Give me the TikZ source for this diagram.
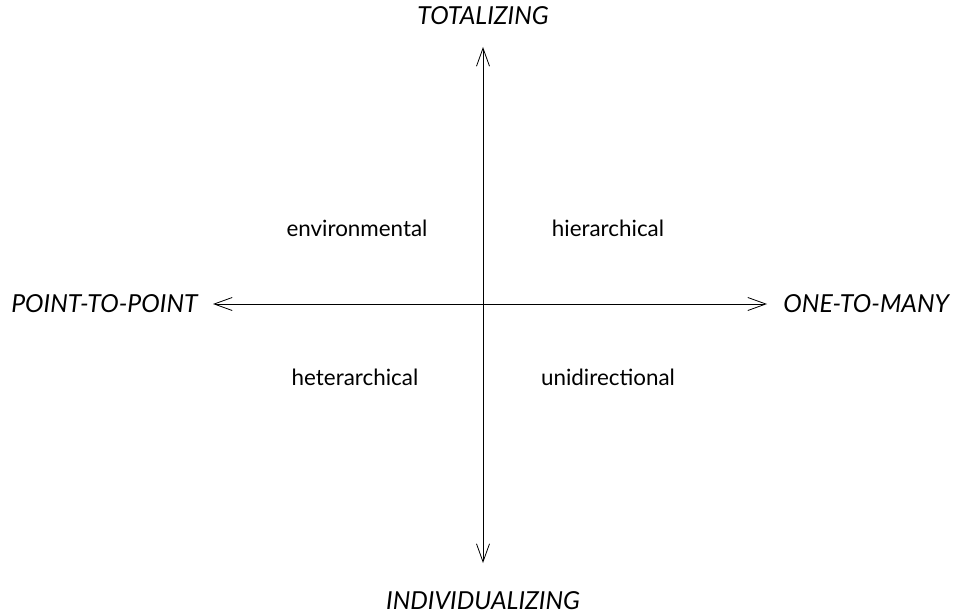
\documentclass[tikz,border=0pt]{standalone}
\usepackage{fontspec}
\setmainfont{Lato}
\usetikzlibrary{
        arrows.meta,
        positioning
    }
\tikzset{>={Straight Barb[length=9pt,width=6.5pt]},line width=0.8pt}
\tikzset{axis label/.style={font=\fontsize{12.4}{14}\selectfont\itshape,inner sep=0pt}}
\tikzset{quadrant/.style={font=\fontsize{11.2}{13}\selectfont,inner sep=0pt}}

\begin{document}
\begin{tikzpicture}[x=0.5pt,y=-0.5pt]
				\useasboundingbox (0,0) rectangle (957,615);
				\coordinate (o) at (483,304);
				\coordinate (t) at (483,47);
				\coordinate (b) at (483,563);
				\coordinate (l) at (213,304);
				\coordinate (r) at (767,304);
				\node[axis label] (tot)  [above=11pt of t]     {TOTALIZING};
				\node[axis label] (ind)  [below=14pt of b]     {INDIVIDUALIZING};
				\node[axis label] (p2p)  [left=7.5pt of l]     {POINT-TO-POINT};
				\node[axis label] (o2m)  [right=8pt of r]     {ONE-TO-MANY};
				\node[quadrant] (env) at (357,228)     {environmental};
				\node[quadrant] (hie) at (608,228)     {hierarchical};
				\node[quadrant] (het) at (355,377)     {heterarchical};
				\node[quadrant] (uni) at (608,377)     {unidirectional};
				\path[<->]
					(t)  edge  (b)
					(l)  edge  (r);
			\end{tikzpicture}
\end{document}
